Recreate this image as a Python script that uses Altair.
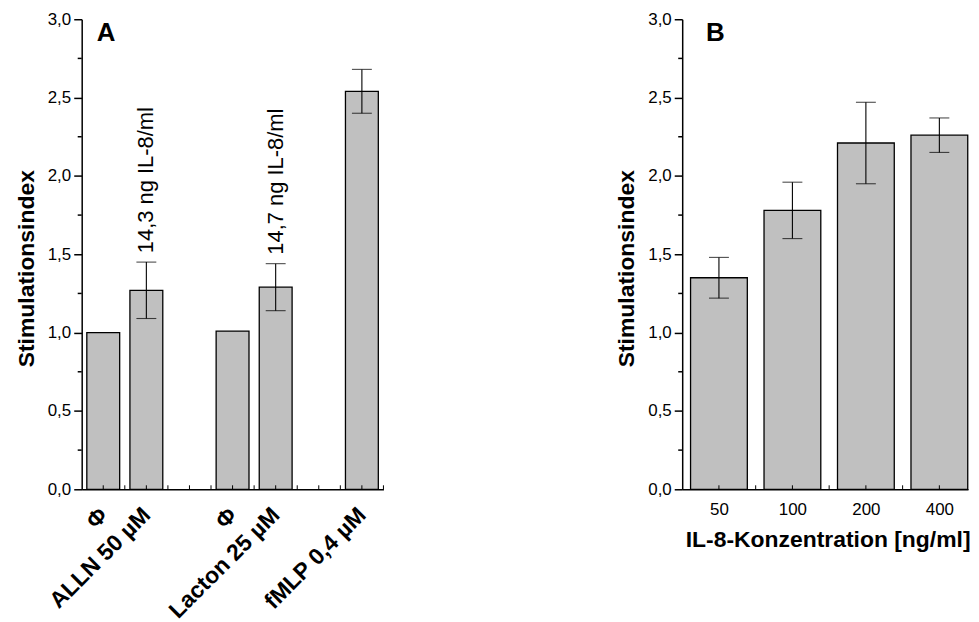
import json
import altair as alt
import pandas as pd

FONT = "Liberation Sans"

# ---------------- Panel A data ----------------
a_pos = [0, 1, 3, 4, 6]
a_labels = ["Φ", "ALLN 50 µM", "Φ", "Lacton 25 µM", "fMLP 0,4 µM"]
a_values = [1.00, 1.27, 1.01, 1.29, 2.54]
a_errors = [0.0, 0.18, 0.0, 0.15, 0.14]
a_notes = ["", "14,3 ng IL-8/ml", "", "14,7 ng IL-8/ml", ""]
a_inner_ticks = [0, 0.5, 1, 1.5, 2, 2.5, 3, 3.5, 4, 4.5, 5, 5.5, 6, 6.5]

# ---------------- Panel B data ----------------
b_pos = [0, 1, 2, 3]
b_labels = ["50", "100", "200", "400"]
b_values = [1.35, 1.78, 2.21, 2.26]
b_errors = [0.13, 0.18, 0.26, 0.11]
b_inner_ticks = [0, 0.5, 1, 1.5, 2, 2.5, 3]

y_major = [0, 0.5, 1.0, 1.5, 2.0, 2.5, 3.0]
y_minor = [0.25, 0.75, 1.25, 1.75, 2.25, 2.75]

H = 472
WA = 303
WB = 287

y_scale = alt.Scale(domain=[0, 3], nice=False, zero=True)
y_label_expr = "replace(format(datum.value, '.1f'), '.', ',')"

Y_AXIS = alt.Axis(values=y_major, labelExpr=y_label_expr, tickSize=8,
                  labelFontSize=17, labelPadding=3, grid=False,
                  title="Stimulationsindex", titleFontSize=23,
                  titleFontWeight="bold", titlePadding=9, titleY=250)


def panel(pos, labels, values, errors, notes, inner_ticks, domain, width,
          bar_w, letter, letter_x, x_axis):
    df = pd.DataFrame({"pos": pos, "label": labels, "v": values,
                       "e": errors, "note": notes})
    xs = alt.Scale(domain=domain, nice=False, zero=False, padding=0)

    def X(field):
        return alt.X(field, scale=xs, axis=x_axis)

    def Y(field):
        return alt.Y(field, scale=y_scale, axis=Y_AXIS)

    bars = alt.Chart(df).mark_bar(width=bar_w, color="#c0c0c0",
                                  stroke="black", strokeWidth=1.3).encode(
        x=X("pos:Q"), y=Y("v:Q"))
    err_df = df[df["e"] > 0]
    err_base = alt.Chart(err_df).transform_calculate(
        lo="datum.v - datum.e", hi="datum.v + datum.e")
    rule = err_base.mark_rule(color="black", strokeWidth=1.1).encode(
        x=X("pos:Q"), y=Y("lo:Q"), y2="hi:Q")
    cap_hi = err_base.mark_tick(orient="horizontal", size=20, thickness=1.1,
                                color="black").encode(x=X("pos:Q"), y=Y("hi:Q"))
    cap_lo = err_base.mark_tick(orient="horizontal", size=20, thickness=1.1,
                                color="black").encode(x=X("pos:Q"), y=Y("lo:Q"))
    minor = alt.Chart(pd.DataFrame({"m": y_minor})).mark_rule(
        color="black", strokeWidth=1.5).encode(
        y=Y("m:Q"), x=alt.value(-4), x2=alt.value(0))
    xt = alt.Chart(pd.DataFrame({"t": inner_ticks})).mark_rule(
        color="black", strokeWidth=1).encode(
        x=X("t:Q"), y=alt.value(H), y2=alt.value(H - 4))
    letter_mark = alt.Chart(pd.DataFrame({"t": [letter]})).mark_text(
        align="left", baseline="top", fontSize=26, fontWeight="bold",
        font=FONT, color="black").encode(
        x=alt.value(letter_x), y=alt.value(1), text="t:N")
    layers = [bars, rule, cap_hi, cap_lo, minor, xt, letter_mark]
    note_df = df[df["note"] != ""]
    if len(note_df):
        notes_mark = alt.Chart(note_df).transform_calculate(
            hi="datum.v + datum.e").mark_text(
            angle=270, align="left", baseline="middle", fontSize=22,
            font=FONT, color="black", dx=9).encode(
            x=X("pos:Q"), y=Y("hi:Q"), text="note:N")
        layers.append(notes_mark)
    return alt.layer(*layers).properties(width=width, height=H)


a_expr = "{}[indexof({}, datum.value)]".format(
    json.dumps(a_labels, ensure_ascii=False), json.dumps(a_pos))
a_xaxis = alt.Axis(values=a_pos, labelExpr=a_expr, ticks=False,
                   labelAngle=-45, labelFontSize=23, labelFontWeight="bold",
                   labelBaseline="middle", labelAlign="right",
                   labelPadding=22, title=None, grid=False,
                   labelOverlap=False)

b_expr = "{}[indexof({}, datum.value)]".format(
    json.dumps(b_labels), json.dumps(b_pos))
b_xaxis = alt.Axis(values=b_pos, labelExpr=b_expr, ticks=False,
                   labelAngle=0, labelFontSize=17, labelPadding=12,
                   title="IL-8-Konzentration [ng/ml]", titleFontSize=23,
                   titleFontWeight="bold", titlePadding=11, titleX=146,
                   grid=False)

panel_a = panel(a_pos, a_labels, a_values, a_errors, a_notes, a_inner_ticks,
                [-0.5, 6.5], WA, 33, "A", 15, a_xaxis)
panel_b = panel(b_pos, b_labels, b_values, b_errors, [""] * 4, b_inner_ticks,
                [-0.5, 3.39], WB, 57, "B", 24, b_xaxis)

chart = alt.hconcat(panel_a, panel_b, spacing=232).properties(
    padding={"left": 7, "top": 1, "right": 0, "bottom": 3}
).configure_view(stroke=None).configure_axis(
    domainColor="black", tickColor="black", labelColor="black",
    titleColor="black", domainWidth=1.5, tickWidth=1.5,
    labelFont=FONT, titleFont=FONT,
)

chart.save("out.html", embed_options={"renderer": "svg", "actions": False})
